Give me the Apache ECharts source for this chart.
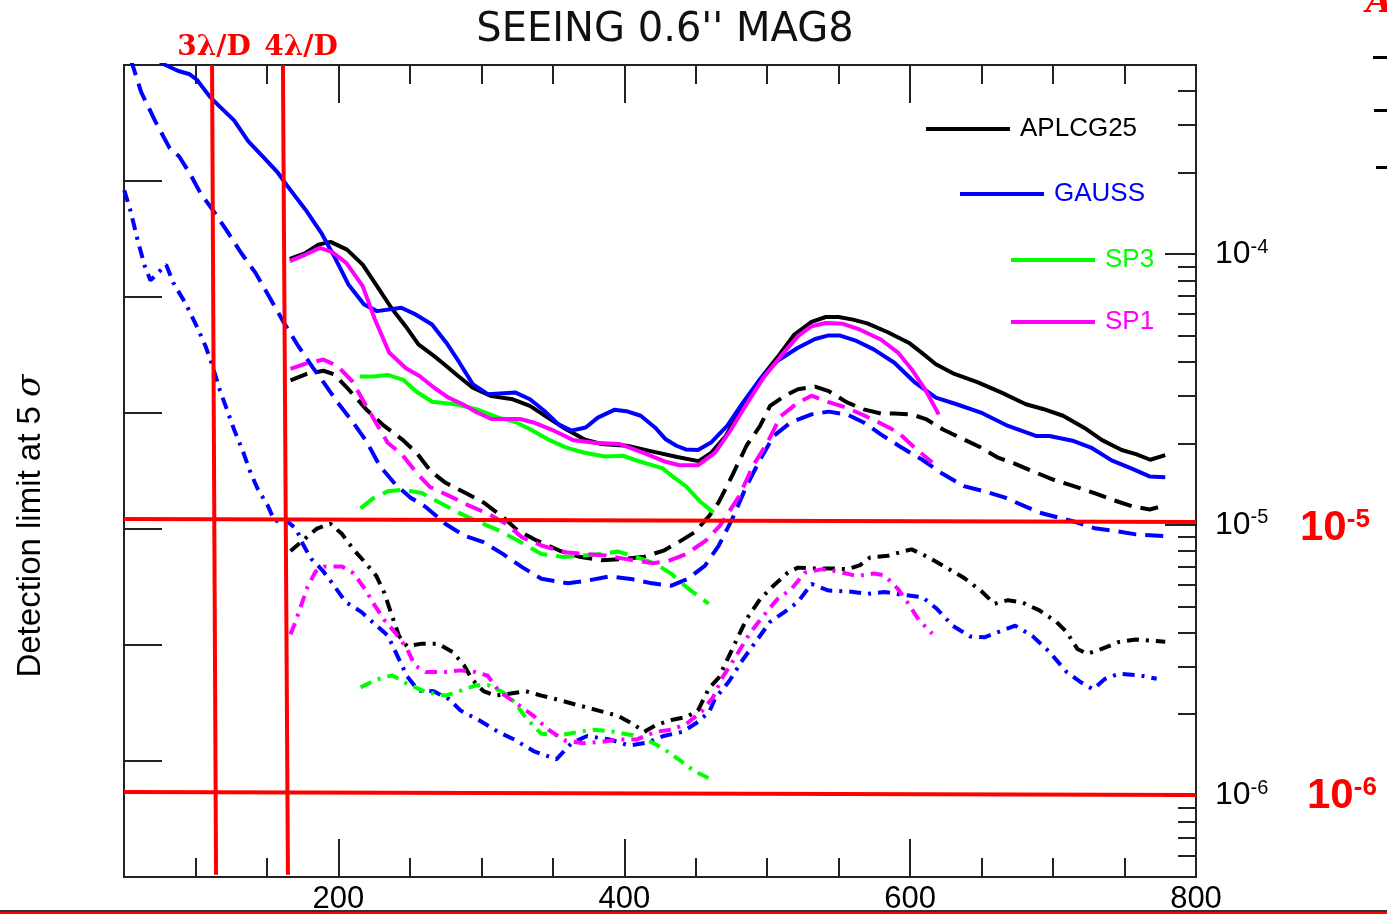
<!DOCTYPE html>
<html><head><meta charset="utf-8">
<script src="https://cdn.jsdelivr.net/npm/echarts@6/dist/echarts.min.js"></script>
<style>html,body{margin:0;padding:0;background:#fff}#c{width:1387px;height:915px}</style>
</head><body><div id="c"></div>
<script>
// ---------- tick values ----------
const xTickLabels = [200, 400, 600, 800];
const xMajorTicks = [200, 400, 600];
const yMajorTicks = [1e-6, 1e-5, 1e-4];
const yMinorTicks = [6e-7, 7e-7, 8e-7, 9e-7, 2e-6, 3e-6, 4e-6, 5e-6, 6e-6, 7e-6, 8e-6, 9e-6,
  2e-5, 3e-5, 4e-5, 5e-5, 6e-5, 7e-5, 8e-5, 9e-5, 2e-4, 3e-4, 4e-4];

// ---------- reference lines ----------
const line3LD = [[111.6, 5e-4], [114.4, 5.1e-7]];
const line4LD = [[161.2, 5e-4], [164.7, 5.1e-7]];
const line1e5 = [[50, 1.05e-5], [800, 1.025e-5]];
const line1e6 = [[50, 1.031e-6], [800, 1.005e-6]];

// ---------- APLCG25 (black) ----------
const aplcgSolid = [[166,9.6e-5],[177,1.01e-4],[186,1.085e-4],[194.5,1.11e-4],[206,1.04e-4],[217,9.15e-5],[227,7.62e-5],[237,6.34e-5],[247,5.42e-5],[256,4.64e-5],[267,4.2e-5],[274,3.92e-5],[284,3.54e-5],[294,3.21e-5],[307,2.99e-5],[322,2.91e-5],[334,2.75e-5],[347,2.48e-5],[359,2.26e-5],[372,2.07e-5],[384,1.99e-5],[402,1.96e-5],[417,1.88e-5],[437,1.78e-5],[452,1.72e-5],[461,1.85e-5],[471,2.13e-5],[483,2.75e-5],[495,3.45e-5],[507,4.15e-5],[519,5.05e-5],[531,5.62e-5],[541,5.86e-5],[550,5.86e-5],[560,5.73e-5],[570,5.55e-5],[584,5.16e-5],[599,4.71e-5],[608,4.33e-5],[618,3.92e-5],[630,3.63e-5],[647,3.37e-5],[664,3.08e-5],[681,2.79e-5],[693,2.68e-5],[707,2.53e-5],[722,2.28e-5],[734,2.06e-5],[748,1.89e-5],[758,1.825e-5],[768,1.74e-5],[778.5,1.81e-5]];
const aplcgDash = [[166.5,3.42e-5],[177,3.6e-5],[189.5,3.71e-5],[197,3.6e-5],[207,3.17e-5],[219.5,2.67e-5],[232,2.32e-5],[244.5,2.07e-5],[254.5,1.85e-5],[264.5,1.58e-5],[275,1.43e-5],[288,1.32e-5],[301.5,1.21e-5],[315,1.07e-5],[325.5,9.53e-6],[339,8.74e-6],[355,8.02e-6],[368.5,7.63e-6],[384.5,7.4e-6],[400.5,7.49e-6],[414,7.63e-6],[427.5,8.03e-6],[438,8.63e-6],[449,9.37e-6],[459.5,1.08e-5],[466,1.21e-5],[475.5,1.52e-5],[485.5,1.96e-5],[495,2.32e-5],[502,2.75e-5],[512,2.99e-5],[521.5,3.17e-5],[533.5,3.24e-5],[543,3.12e-5],[555.5,2.84e-5],[567.5,2.67e-5],[579.5,2.58e-5],[589,2.58e-5],[601,2.56e-5],[611,2.46e-5],[623,2.25e-5],[635,2.1e-5],[649.5,1.93e-5],[661.5,1.77e-5],[673.5,1.68e-5],[688,1.56e-5],[700,1.47e-5],[714.5,1.39e-5],[729,1.31e-5],[741,1.24e-5],[755.5,1.17e-5],[767.5,1.14e-5],[778.5,1.18e-5]];
const aplcgDashDot = [[166.5,8.0e-6],[175.5,8.78e-6],[185,9.69e-6],[194.5,1.01e-5],[202.5,9.25e-6],[210.5,8.12e-6],[218.5,7.28e-6],[226.5,6.48e-6],[232,5.63e-6],[237.5,4.61e-6],[242.5,3.88e-6],[248,3.56e-6],[258.5,3.64e-6],[269.5,3.64e-6],[280,3.39e-6],[288,3.02e-6],[293.5,2.69e-6],[301.5,2.43e-6],[309.5,2.34e-6],[320.5,2.38e-6],[331,2.43e-6],[342,2.34e-6],[355,2.25e-6],[368.5,2.15e-6],[382,2.06e-6],[395.5,1.97e-6],[406,1.84e-6],[414,1.72e-6],[422,1.82e-6],[433,1.9e-6],[443.5,1.95e-6],[451.5,2.06e-6],[459.5,2.5e-6],[466,2.72e-6],[475.5,3.47e-6],[485.5,4.48e-6],[495,5.31e-6],[504.5,5.97e-6],[514.5,6.67e-6],[521.5,6.95e-6],[533.5,6.9e-6],[545.5,6.9e-6],[556.5,6.86e-6],[565,7.1e-6],[572,7.58e-6],[584.5,7.69e-6],[594,7.95e-6],[601,8.12e-6],[613,7.58e-6],[625,6.96e-6],[637.5,6.38e-6],[649.5,5.71e-6],[659,5.11e-6],[668.5,5.27e-6],[678.5,5.17e-6],[690.5,4.83e-6],[702.5,4.37e-6],[709.5,4.02e-6],[717,3.48e-6],[724,3.34e-6],[734,3.48e-6],[746,3.69e-6],[758,3.77e-6],[778.5,3.7e-6]];

// ---------- GAUSS (blue) ----------
const gaussSolid = [[74,5.2e-4],[79,5.0e-4],[88,4.75e-4],[96,4.62e-4],[101,4.41e-4],[110,3.82e-4],[117,3.51e-4],[127,3.12e-4],[137,2.61e-4],[147,2.3e-4],[157,2.02e-4],[164.5,1.78e-4],[177,1.46e-4],[188,1.2e-4],[197,9.83e-5],[207,7.73e-5],[218,6.52e-5],[227,6.16e-5],[244,6.34e-5],[254,5.99e-5],[265.5,5.5e-5],[275.5,4.71e-5],[284.5,3.99e-5],[294,3.31e-5],[304.5,3.04e-5],[324,3.08e-5],[334,2.91e-5],[344,2.64e-5],[354,2.35e-5],[363,2.23e-5],[373,2.29e-5],[381.5,2.49e-5],[393,2.66e-5],[401.5,2.63e-5],[411.5,2.53e-5],[421.5,2.29e-5],[429,2.07e-5],[436.5,1.96e-5],[443,1.9e-5],[451.5,1.89e-5],[461,2.02e-5],[472,2.32e-5],[483,2.83e-5],[495,3.45e-5],[507,4.03e-5],[521.5,4.51e-5],[533.5,4.86e-5],[543,5.01e-5],[550.5,5.01e-5],[562.5,4.78e-5],[574.5,4.45e-5],[589,3.97e-5],[603.5,3.35e-5],[618,2.95e-5],[632.5,2.79e-5],[649.5,2.6e-5],[668.5,2.32e-5],[688,2.13e-5],[697.5,2.13e-5],[714.5,2.04e-5],[726.5,1.93e-5],[741,1.73e-5],[755.5,1.61e-5],[767.5,1.51e-5],[778.5,1.5e-5]];
const gaussDash = [[54,5.3e-4],[56,5.0e-4],[62,3.97e-4],[72,3.09e-4],[82,2.46e-4],[88.5,2.3e-4],[96,1.99e-4],[103.5,1.68e-4],[112,1.46e-4],[122,1.22e-4],[132,1.01e-4],[142,8.53e-5],[152,6.9e-5],[162,5.57e-5],[172,4.57e-5],[182,3.82e-5],[190.5,3.31e-5],[199.5,2.83e-5],[209.5,2.42e-5],[219.5,2.04e-5],[229,1.65e-5],[240,1.41e-5],[250.5,1.26e-5],[261.5,1.16e-5],[275,1.007e-5],[288,9.13e-6],[301.5,8.63e-6],[315,7.81e-6],[328.5,6.98e-6],[342,6.32e-6],[360.5,6.08e-6],[374,6.22e-6],[390,6.45e-6],[406,6.29e-6],[419.5,6.08e-6],[433,5.96e-6],[444.5,6.32e-6],[456.5,7.07e-6],[466,8.37e-6],[475.5,1.05e-5],[485.5,1.39e-5],[495,1.74e-5],[504.5,2.13e-5],[516.5,2.39e-5],[531,2.56e-5],[543,2.62e-5],[556.5,2.55e-5],[567.5,2.39e-5],[579.5,2.16e-5],[594,1.93e-5],[608.5,1.74e-5],[623,1.54e-5],[637.5,1.39e-5],[652,1.33e-5],[666.5,1.26e-5],[680.5,1.17e-5],[690.5,1.11e-5],[705,1.06e-5],[717,1.02e-5],[729,9.72e-6],[743.5,9.5e-6],[758,9.22e-6],[778.5,9.08e-6]];
const gaussDashDot = [[50.2,1.72e-4],[54.5,1.45e-4],[59.5,1.13e-4],[64.5,9.05e-5],[68.5,8.0e-5],[73.5,8.5e-5],[79.5,9.15e-5],[84.5,7.84e-5],[93.5,6.52e-5],[101,5.4e-5],[107,4.58e-5],[112,3.86e-5],[117,3.15e-5],[122,2.67e-5],[127,2.25e-5],[133.5,1.85e-5],[138.5,1.56e-5],[143.5,1.36e-5],[150.5,1.18e-5],[155.5,1.03e-5],[162.5,1.05e-5],[170.5,9.65e-6],[175.5,8.42e-6],[181,7.49e-6],[189,6.78e-6],[197,5.96e-6],[205,5.19e-6],[216,4.77e-6],[226.5,4.25e-6],[234.5,3.9e-6],[242.5,3.18e-6],[248,2.76e-6],[256,2.44e-6],[266.5,2.43e-6],[277.5,2.27e-6],[285.5,2.06e-6],[299,1.89e-6],[312.5,1.71e-6],[323,1.61e-6],[336.5,1.46e-6],[352.5,1.36e-6],[363,1.56e-6],[374,1.66e-6],[390,1.61e-6],[403.5,1.53e-6],[416.5,1.57e-6],[427.5,1.66e-6],[441,1.72e-6],[451.5,1.87e-6],[459.5,2.04e-6],[463.5,2.28e-6],[473.5,2.65e-6],[483,3.18e-6],[492.5,3.73e-6],[502,4.38e-6],[512,4.76e-6],[521.5,5.19e-6],[531,6.05e-6],[543,5.72e-6],[557.5,5.67e-6],[570,5.56e-6],[582,5.65e-6],[594,5.52e-6],[608.5,5.41e-6],[618,4.93e-6],[630,4.23e-6],[642,3.87e-6],[652,3.84e-6],[664,4.06e-6],[673.5,4.24e-6],[685.5,3.89e-6],[697.5,3.39e-6],[709.5,2.86e-6],[719.5,2.62e-6],[728,2.47e-6],[736,2.69e-6],[746,2.82e-6],[760.5,2.78e-6],[772.5,2.7e-6]];

// ---------- SP3 (green) ----------
const sp3Solid = [[215,3.53e-5],[224.5,3.53e-5],[234.5,3.58e-5],[245.5,3.43e-5],[254.5,3.11e-5],[265.5,2.85e-5],[282,2.79e-5],[297,2.67e-5],[312,2.49e-5],[324.5,2.39e-5],[334.5,2.25e-5],[346.5,2.07e-5],[359.5,1.93e-5],[371.5,1.85e-5],[386.5,1.79e-5],[399,1.8e-5],[411.5,1.71e-5],[426.5,1.62e-5],[434.5,1.5e-5],[443,1.39e-5],[453,1.22e-5],[462.5,1.11e-5]];
const sp3Dash = [[215.5,1.15e-5],[224,1.25e-5],[234.5,1.33e-5],[245.5,1.35e-5],[258.5,1.31e-5],[272,1.2e-5],[285.5,1.1e-5],[299,1.02e-5],[312.5,9.52e-6],[325.5,8.75e-6],[342,7.81e-6],[358,7.6e-6],[371,7.7e-6],[384.5,7.81e-6],[395.5,7.97e-6],[408.5,7.6e-6],[422,7.18e-6],[433,6.59e-6],[443.5,5.89e-6],[459,5.11e-6]];
const sp3DashDot = [[215.5,2.51e-6],[226.5,2.68e-6],[237.5,2.78e-6],[248,2.59e-6],[261.5,2.41e-6],[275,2.34e-6],[285.5,2.44e-6],[296,2.55e-6],[304.5,2.56e-6],[315,2.41e-6],[323,2.22e-6],[331,1.94e-6],[342,1.69e-6],[355,1.67e-6],[368.5,1.72e-6],[379,1.75e-6],[392.5,1.72e-6],[406,1.67e-6],[416.5,1.6e-6],[427.5,1.49e-6],[438,1.36e-6],[449,1.23e-6],[462,1.14e-6]];

// ---------- SP1 (magenta) ----------
const sp1Solid = [[166,9.42e-5],[177,9.97e-5],[187,1.055e-4],[195.5,1.02e-4],[205.5,9.29e-5],[217,7.62e-5],[225.5,5.75e-5],[235.5,4.33e-5],[247,3.8e-5],[257,3.54e-5],[267,3.21e-5],[277,2.95e-5],[287,2.79e-5],[297,2.6e-5],[307,2.46e-5],[327,2.46e-5],[336.5,2.39e-5],[349,2.25e-5],[364,2.06e-5],[379,2.01e-5],[396.5,1.99e-5],[414,1.84e-5],[429,1.71e-5],[438.5,1.66e-5],[451.5,1.66e-5],[463.5,1.85e-5],[473.5,2.2e-5],[485.5,2.79e-5],[497.5,3.5e-5],[509.5,4.2e-5],[521.5,4.98e-5],[531,5.42e-5],[541,5.57e-5],[553,5.53e-5],[565,5.26e-5],[579.5,4.84e-5],[591.5,4.33e-5],[601,3.76e-5],[611,3.13e-5],[620,2.56e-5]];
const sp1Dash = [[166.5,3.77e-5],[177,3.94e-5],[189.5,4.08e-5],[199.5,3.86e-5],[209.5,3.4e-5],[219.5,2.75e-5],[227,2.35e-5],[234.5,2.01e-5],[244.5,1.82e-5],[254.5,1.56e-5],[264,1.38e-5],[277.5,1.28e-5],[291,1.18e-5],[304.5,1.1e-5],[317.5,1.007e-5],[328.5,8.99e-6],[342,8.39e-6],[358,7.92e-6],[371,7.81e-6],[387,7.7e-6],[403.5,7.44e-6],[419.5,7.22e-6],[430,7.32e-6],[443.5,7.81e-6],[457,8.74e-6],[467,9.93e-6],[480.5,1.28e-5],[490,1.65e-5],[500,2.01e-5],[509.5,2.52e-5],[521.5,2.83e-5],[531,3.0e-5],[543,2.84e-5],[555.5,2.71e-5],[567.5,2.54e-5],[579.5,2.37e-5],[591.5,2.2e-5],[603.5,1.92e-5],[615.5,1.7e-5]];
const sp1DashDot = [[166.5,3.94e-6],[170.5,4.46e-6],[174.5,5.14e-6],[178.5,5.92e-6],[184,6.72e-6],[190.5,7.02e-6],[202.5,7.02e-6],[210.5,6.63e-6],[218.5,5.8e-6],[225.5,5.03e-6],[232,4.46e-6],[240,3.98e-6],[248,3.49e-6],[253.5,3.02e-6],[261.5,2.86e-6],[275,2.86e-6],[285.5,2.9e-6],[296,2.86e-6],[304.5,2.77e-6],[312.5,2.42e-6],[323,2.22e-6],[336.5,1.97e-6],[347,1.75e-6],[358,1.6e-6],[371,1.56e-6],[384.5,1.58e-6],[395.5,1.61e-6],[408.5,1.61e-6],[422,1.72e-6],[433,1.75e-6],[443.5,1.84e-6],[454,2.04e-6],[462,2.3e-6],[468.5,2.72e-6],[478,3.26e-6],[488,3.99e-6],[497.5,4.62e-6],[507,5.31e-6],[516.5,5.77e-6],[526.5,6.66e-6],[538.5,6.86e-6],[550.5,6.71e-6],[562.5,6.47e-6],[574.5,6.61e-6],[582,6.51e-6],[591.5,5.8e-6],[598.5,5.14e-6],[606,4.46e-6],[615.5,3.96e-6]];

// ---------- styles ----------
const BLACK = '#000000', BLUE = '#0000ff', GREEN = '#00ff00', MAGENTA = '#ff00ff', RED = '#ff0000';
const AX = '#222222';
const DASH = [18, 9];
const DASHDOT = [12, 7, 3, 7];

function mk(name, data, color, type, z) {
  return {
    name: name, type: 'line', data: data, xAxisIndex: 0, yAxisIndex: 0,
    showSymbol: false, symbol: 'none', clip: true, animation: false, z: z || 2,
    lineStyle: { color: color, width: 4, type: type, cap: 'butt' },
    itemStyle: { color: color }, emphasis: { disabled: true }
  };
}
function redLine(data) {
  return { type: 'line', data: data, showSymbol: false, symbol: 'none', clip: false,
    animation: false, z: 5, silent: true,
    lineStyle: { color: RED, width: 4 }, emphasis: { disabled: true } };
}

const series = [
  mk('APLCG25', aplcgSolid, BLACK, 'solid', 3),
  mk('GAUSS', gaussSolid, BLUE, 'solid', 3),
  mk('SP3', sp3Solid, GREEN, 'solid', 3),
  mk('SP1', sp1Solid, MAGENTA, 'solid', 4),
  mk('APLCG25 dashed', aplcgDash, BLACK, DASH),
  mk('GAUSS dashed', gaussDash, BLUE, DASH),
  mk('SP3 dashed', sp3Dash, GREEN, DASH),
  mk('SP1 dashed', sp1Dash, MAGENTA, DASH),
  mk('APLCG25 dashdot', aplcgDashDot, BLACK, DASHDOT),
  mk('GAUSS dashdot', gaussDashDot, BLUE, DASHDOT),
  mk('SP3 dashdot', sp3DashDot, GREEN, DASHDOT),
  mk('SP1 dashdot', sp1DashDot, MAGENTA, DASHDOT),
  redLine(line3LD), redLine(line4LD), redLine(line1e5), redLine(line1e6)
];

function leg(name, color, left, top) {
  return { data: [name], left: left, top: top, orient: 'horizontal', selectedMode: false,
    icon: 'rect', itemWidth: 84, itemHeight: 4, itemGap: 0, padding: 0,
    textStyle: { color: color, fontSize: 26, fontFamily: 'Liberation Sans', padding: [0, 0, 0, 5] } };
}

const FONT = 'Liberation Sans';
const option = {
  backgroundColor: '#ffffff',
  animation: false,
  title: { text: "SEEING 0.6'' MAG8", left: 660, textAlign: 'center', top: 6,
    textStyle: { fontSize: 40, fontWeight: 'normal', color: '#111', fontFamily: 'DejaVu Sans' } },
  legend: [
    leg('APLCG25', BLACK, 926, 116),
    leg('GAUSS', BLUE, 960, 181),
    leg('SP3', GREEN, 1011, 247),
    leg('SP1', MAGENTA, 1011, 309)
  ],
  grid: { left: 124, right: 191, top: 65, bottom: 38, containLabel: false },
  xAxis: [
    { type: 'value', min: 50, max: 800, interval: 50, position: 'bottom',
      axisLine: { show: true, onZero: false, lineStyle: { color: AX, width: 2 } },
      axisTick: { show: true, inside: true, length: 19, lineStyle: { color: AX, width: 2 } },
      axisLabel: { customValues: xTickLabels, fontSize: 31, color: '#000', margin: 7, fontFamily: FONT },
      splitLine: { show: false } },
    { type: 'value', min: 50, max: 800, position: 'bottom',
      axisLine: { show: false },
      axisTick: { show: true, inside: true, length: 38, customValues: xMajorTicks, lineStyle: { color: AX, width: 2 } },
      axisLabel: { show: false }, splitLine: { show: false } },
    { type: 'value', min: 50, max: 800, interval: 50, position: 'top',
      axisLine: { show: true, onZero: false, lineStyle: { color: AX, width: 2 } },
      axisTick: { show: true, inside: true, length: 19, lineStyle: { color: AX, width: 2 } },
      axisLabel: { show: false }, splitLine: { show: false } },
    { type: 'value', min: 50, max: 800, position: 'top',
      axisLine: { show: false },
      axisTick: { show: true, inside: true, length: 38, customValues: xMajorTicks, lineStyle: { color: AX, width: 2 } },
      axisLabel: { show: false }, splitLine: { show: false } }
  ],
  yAxis: [
    { type: 'log', logBase: 10, min: 5e-7, max: 5e-4, position: 'right',
      axisLine: { show: true, onZero: false, lineStyle: { color: AX, width: 2 } },
      axisTick: { show: true, inside: true, length: 31, customValues: yMajorTicks, lineStyle: { color: AX, width: 2 } },
      axisLabel: { customValues: yMajorTicks, margin: 19, color: '#000', fontFamily: FONT,
        formatter: function (v) { return '{b|10}{s|' + Math.round(Math.log10(v)) + '}'; },
        rich: { b: { fontSize: 32, fontFamily: FONT, color: '#000' },
                s: { fontSize: 20, fontFamily: FONT, color: '#000', verticalAlign: 'top', padding: [0, 0, 14, 0] } } },
      splitLine: { show: false }, minorTick: { show: false } },
    { type: 'value', min: 0, max: 7, interval: 1, position: 'left',
      axisLine: { show: true, onZero: false, lineStyle: { color: AX, width: 2 } },
      axisTick: { show: true, inside: true, length: 38, lineStyle: { color: AX, width: 2 } },
      axisLabel: { show: false }, splitLine: { show: false } },
    { type: 'log', logBase: 10, min: 5e-7, max: 5e-4, position: 'right',
      axisLine: { show: false },
      axisTick: { show: true, inside: true, length: 18, customValues: yMinorTicks, lineStyle: { color: AX, width: 2 } },
      axisLabel: { show: false }, splitLine: { show: false } }
  ],
  graphic: [
    { type: 'text', x: 31, y: 526, rotation: Math.PI / 2, silent: true,
      style: { text: 'Detection limit at 5 {i|σ}', fontSize: 33, fontFamily: FONT, fill: '#000',
        align: 'center', verticalAlign: 'middle',
        rich: { i: { fontStyle: 'italic', fontSize: 33, fontFamily: 'DejaVu Serif', fill: '#000' } } } },
    { type: 'text', x: 214, y: 48, silent: true,
      style: { text: '3λ/D', fontSize: 28, fontWeight: 'bold', fontFamily: 'DejaVu Serif', fill: RED, align: 'center', verticalAlign: 'middle' } },
    { type: 'text', x: 301, y: 48, silent: true,
      style: { text: '4λ/D', fontSize: 28, fontWeight: 'bold', fontFamily: 'DejaVu Serif', fill: RED, align: 'center', verticalAlign: 'middle' } },
    { type: 'text', x: 1300, y: 528, silent: true,
      style: { text: '{b|10}{s|-5}', align: 'left', verticalAlign: 'middle', fill: RED,
        rich: { b: { fontSize: 42, fontWeight: 'bold', fontFamily: FONT, fill: RED },
                s: { fontSize: 26, fontWeight: 'bold', fontFamily: FONT, fill: RED, verticalAlign: 'top', padding: [0, 0, 16, 0] } } } },
    { type: 'text', x: 1307, y: 796, silent: true,
      style: { text: '{b|10}{s|-6}', align: 'left', verticalAlign: 'middle', fill: RED,
        rich: { b: { fontSize: 42, fontWeight: 'bold', fontFamily: FONT, fill: RED },
                s: { fontSize: 26, fontWeight: 'bold', fontFamily: FONT, fill: RED, verticalAlign: 'top', padding: [0, 0, 16, 0] } } } },
    { type: 'text', x: 1366, y: -14, silent: true,
      style: { text: 'A', fontSize: 34, fontWeight: 'bold', fontStyle: 'italic', fontFamily: 'DejaVu Serif', fill: RED } },
    { type: 'rect', shape: { x: 1373, y: 56, width: 14, height: 3 }, style: { fill: '#000' }, silent: true },
    { type: 'rect', shape: { x: 1374, y: 109, width: 13, height: 3 }, style: { fill: '#000' }, silent: true },
    { type: 'rect', shape: { x: 1376, y: 166, width: 11, height: 3 }, style: { fill: '#000' }, silent: true },
    { type: 'rect', shape: { x: 0, y: 910, width: 1387, height: 2 }, style: { fill: '#333' }, silent: true },
    { type: 'rect', shape: { x: 0, y: 912, width: 1387, height: 2 }, style: { fill: RED }, silent: true }
  ],
  series: series
};

const chart = echarts.init(document.getElementById('c'), null, { renderer: 'canvas' });
chart.setOption(option);
</script>
</body></html>
